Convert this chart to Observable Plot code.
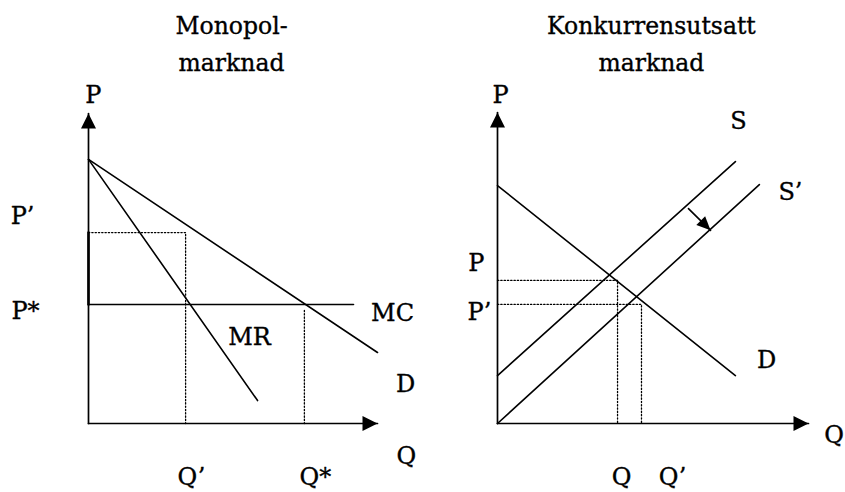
<!DOCTYPE html>
<html>
<head>
<meta charset="utf-8">
<script src="https://cdn.jsdelivr.net/npm/d3@7"></script>
<script src="https://cdn.jsdelivr.net/npm/@observablehq/plot@0.6"></script>
<style>
  html, body { margin: 0; padding: 0; background: #fff; }
  #wrap { display: flex; width: 845px; height: 492px; }
  svg { font-family: "DejaVu Serif", serif; }
</style>
</head>
<body>
<div id="wrap"></div>
<script>
// ---------- Left panel: monopoly market (units 0..100 on each axis) ----------
const monoTitle = ["Monopol-", "marknad"];
const monoDemand = [[0, 85.2], [100, 22.9]];          // D
const monoMR = [[0, 85.2], [58.5, 7.4]];              // MR
const monoMC = [[0, 38.4], [91.7, 38.4]];             // MC
const monoPprime = [[0, 61.6], [33.6, 61.6], [33.6, 0]]; // P' / Q' guide
const monoQstar = [[74.7, 36.5], [74.7, 0]];          // Q* guide
const monoThickAxis = [[0, 61.6], [0, 38.4]];
const monoLabels = [
  {t: "P", q: 1.7, p: 105.8},
  {t: "P\u2019", q: -22.8, p: 66.8},
  {t: "P*", q: -21.8, p: 36.1},
  {t: "MC", q: 105.2, p: 35.5},
  {t: "MR", q: 55.7, p: 27.7},
  {t: "D", q: 109.7, p: 12.6},
  {t: "Q", q: 110, p: -10.6},
  {t: "Q\u2019", q: 35.6, p: -17.2},
  {t: "Q*", q: 78.5, p: -17.2}
];

// ---------- Right panel: competitive market ----------
const compTitle = ["Konkurrensutsatt", "marknad"];
const compDemand = [[0, 76.5], [76.5, 15.4]];         // D
const compSupply = [[0, 15.4], [76.5, 84.2]];         // S
const compSupply2 = [[0, 0], [84.2, 76.8]];           // S'
const compShift = [[61.4, 69.1], [68.5, 62.1]];       // arrow S -> S'
const compP = [[0, 46.0], [38.6, 46.0], [38.6, 0]];   // P / Q guide
const compPprime = [[0, 38.3], [46.3, 38.3], [46.3, 0]]; // P' / Q' guide
const compLabels = [
  {t: "P", q: 1, p: 105.5},
  {t: "S", q: 77.5, p: 97.1},
  {t: "S\u2019", q: 94.2, p: 74.3},
  {t: "P", q: -6.8, p: 51.4},
  {t: "P\u2019", q: -5.8, p: 35.7},
  {t: "D", q: 86.5, p: 20.3},
  {t: "Q", q: 108.2, p: -3.9},
  {t: "Q", q: 39.9, p: -17.2},
  {t: "Q\u2019", q: 56.3, p: -17.2}
];

// arrowhead symbols (tip at the dot position)
const headUp = {draw(c) { c.moveTo(0, 0); c.lineTo(-7.5, 15); c.lineTo(7.5, 15); c.closePath(); }};
const headRight = {draw(c) { c.moveTo(0, 0); c.lineTo(-15, -7.5); c.lineTo(-15, 7.5); c.closePath(); }};
const headDiag = {draw(c) { c.moveTo(0, 0); c.lineTo(-5.4, -14.2); c.lineTo(-14.2, -5.4); c.closePath(); }};

const FS = 24;
function axes() {
  return [
    Plot.line([[0, 0], [0, 100]], {stroke: "black", strokeWidth: 1.7}),
    Plot.line([[0, 0], [100, 0]], {stroke: "black", strokeWidth: 1.7}),
    Plot.dot([[0, 100]], {symbol: headUp, fill: "black", stroke: null}),
    Plot.dot([[100, 0]], {symbol: headRight, fill: "black", stroke: null})
  ];
}
function solid(d) { return Plot.line(d, {stroke: "black", strokeWidth: 1.6}); }
function dotted(d) { return Plot.line(d, {stroke: "black", strokeWidth: 1.3, strokeDasharray: "1.3,2"}); }
function labels(arr) {
  return Plot.text(arr, {x: "q", y: "p", text: "t", fontSize: FS, fill: "black", stroke: "black", strokeWidth: 0.35, textAnchor: "middle", lineAnchor: "middle"});
}
function title(lines, vTop, vBot) {
  return Plot.text([{t: lines[0], p: vTop}, {t: lines[1], p: vBot}],
    {x: () => 49.5, y: "p", text: "t", fontSize: 23.5, fill: "black", stroke: "black", strokeWidth: 0.35, textAnchor: "middle", lineAnchor: "middle"});
}

const left = Plot.plot({
  width: 422, height: 492,
  marginLeft: 88, marginRight: 45, marginTop: 113, marginBottom: 69,
  x: {domain: [0, 100], axis: null},
  y: {domain: [0, 100], axis: null},
  style: {fontFamily: "DejaVu Serif", background: "white"},
  marks: [
    ...axes(),
    Plot.line(monoThickAxis, {stroke: "black", strokeWidth: 2.6}),
    dotted(monoPprime),
    dotted(monoQstar),
    solid(monoDemand),
    solid(monoMR),
    solid(monoMC),
    labels(monoLabels),
    title(monoTitle, 128.2, 116.3)
  ]
});

const right = Plot.plot({
  width: 423, height: 492,
  marginLeft: 75, marginRight: 37, marginTop: 112, marginBottom: 69,
  x: {domain: [0, 100], axis: null},
  y: {domain: [0, 100], axis: null},
  style: {fontFamily: "DejaVu Serif", background: "white"},
  marks: [
    ...axes(),
    dotted(compP),
    dotted(compPprime),
    solid(compDemand),
    solid(compSupply),
    solid(compSupply2),
    Plot.line(compShift, {stroke: "black", strokeWidth: 1.6}),
    Plot.dot([compShift[1]], {symbol: headDiag, fill: "black", stroke: null}),
    labels(compLabels),
    title(compTitle, 127.8, 115.9)
  ]
});

document.getElementById("wrap").append(left, right);
</script>
</body>
</html>
